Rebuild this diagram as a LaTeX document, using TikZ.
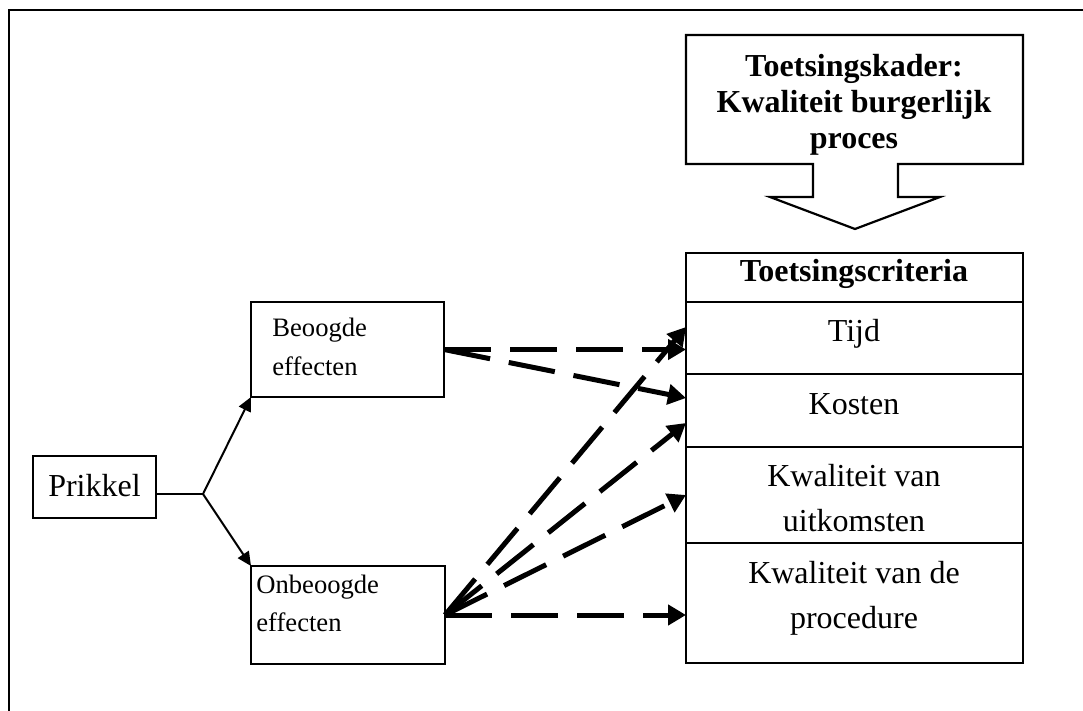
\documentclass[tikz,border=0pt]{standalone}
\usepackage{fontspec}
\setmainfont{Liberation Serif}
\usetikzlibrary{arrows.meta}

\tikzset{
  cell/.style={draw, line width=1.1pt, inner sep=0pt, outer sep=0pt, anchor=north west,
               minimum width=168.5pt},
  box/.style={draw, line width=1.1pt, inner sep=0pt, outer sep=0pt, anchor=north west},
  bigtext/.style={font=\fontsize{16}{22.5}\selectfont, inner sep=0pt, anchor=base},
  smalltext/.style={font=\fontsize{13.3}{19.5}\selectfont, inner sep=0pt, anchor=base west},
  thin/.style={line width=1pt},
  branch/.style={line width=1pt, -{Triangle[length=7pt,width=6.5pt]}},
  link/.style={line width=2.5pt, dash pattern=on 23.5pt off 9.5pt,
               -{Triangle[length=9pt,width=10pt]}}
}

\begin{document}
\begin{tikzpicture}[x=0.5pt,y=-0.5pt]
\useasboundingbox (0,0) rectangle (1083,711);

% outer frame (top and left edges)
\draw[thin] (9,711) -- (9,10) -- (1083,10);

% framework box with downward block arrow
\draw[line width=1.1pt] (686,35) -- (1023,35) -- (1023,164) -- (898,164) -- (898,197)
  -- (940,197) -- (855,229) -- (770,197) -- (813,197) -- (813,164) -- (686,164) -- cycle;
\node[bigtext, font=\fontsize{16}{18}\selectfont\bfseries] (kader) at (854,77)
  {\begin{tabular}[t]{@{}c@{}}Toetsingskader:\\Kwaliteit burgerlijk\\proces\end{tabular}};

% criteria table
\node[cell, minimum height=24.5pt] (head) at (686,253) {};
\node[cell, minimum height=36pt]   (tijd) at (head.south west) {};
\node[cell, minimum height=36.5pt] (kosten) at (tijd.south west) {};
\node[cell, minimum height=48pt]   (uitk) at (kosten.south west) {};
\node[cell, minimum height=60pt]   (proc) at (uitk.south west) {};

\node[bigtext, font=\fontsize{16}{22.5}\selectfont\bfseries] (head-t) at (854,282) {Toetsingscriteria};
\node[bigtext] (tijd-t) at (854,342) {Tijd};
\node[bigtext] (kosten-t) at (854,415) {Kosten};
\node[bigtext] (uitk-t) at (854,487)
  {\begin{tabular}[t]{@{}c@{}}Kwaliteit van\\uitkomsten\end{tabular}};
\node[bigtext] (proc-t) at (854,583)
  {\begin{tabular}[t]{@{}c@{}}Kwaliteit van de\\procedure\end{tabular}};

% stimulus and effects
\node[box, minimum width=61.5pt, minimum height=31pt] (prikkel) at (33,456) {};
\node[bigtext] (prikkel-t) at (94.5,497) {Prikkel};

\node[box, minimum width=96.5pt, minimum height=47.5pt] (beoogd) at (251,302) {};
\node[smalltext] (beoogd-t) at (272,337)
  {\begin{tabular}[t]{@{}l@{}}Beoogde\\effecten\end{tabular}};

\node[box, minimum width=97pt, minimum height=49pt] (onbeoogd) at (251,566) {};
\node[smalltext] (onbeoogd-t) at (256,593)
  {\begin{tabular}[t]{@{}l@{}}Onbeoogde\\effecten\end{tabular}};

% fork from the stimulus
\coordinate (fork) at (203,494);
\draw[thin] ([yshift=-3.5pt]prikkel.east) -- (fork);
\draw[branch] (fork) -- (beoogd.south west);
\draw[branch] (fork) -- (onbeoogd.north west);

% dashed links to the criteria
\draw[link] (beoogd.east) -- (beoogd.east -| tijd.west);
\draw[link] (beoogd.east) -- ([yshift=6.25pt]kosten.west);
\draw[link] (onbeoogd.east) -- ([yshift=5.5pt]tijd.west);
\draw[link] (onbeoogd.east) -- ([yshift=-6.25pt]kosten.west);
\draw[link] (onbeoogd.east) -- (uitk.west);
\draw[link] (onbeoogd.east) -- (onbeoogd.east -| proc.west);
\end{tikzpicture}
\end{document}
